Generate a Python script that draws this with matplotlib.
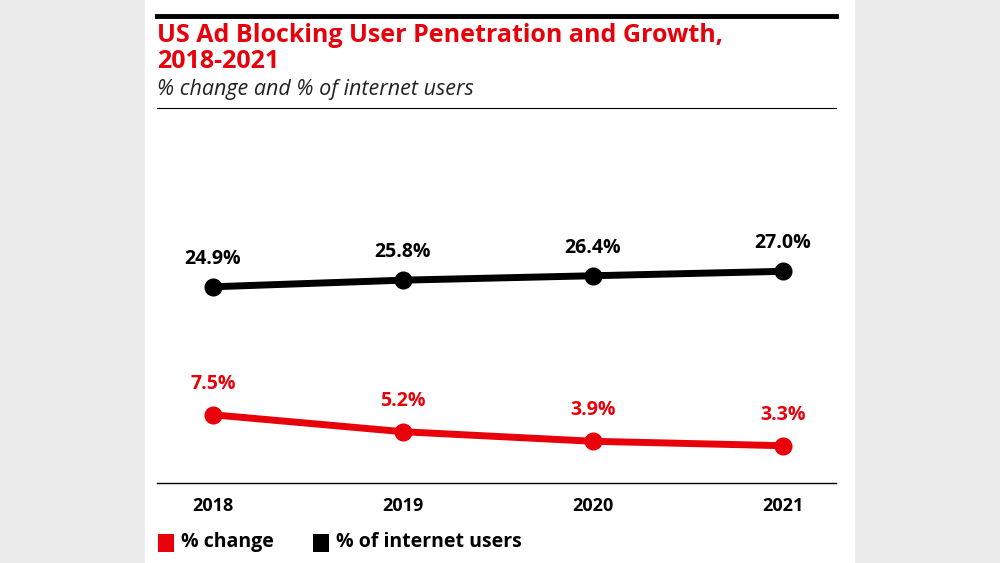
import matplotlib
matplotlib.use("Agg")
import matplotlib.pyplot as plt
from matplotlib.patches import Rectangle
from matplotlib.lines import Line2D

years = [2018, 2019, 2020, 2021]
pct_users = [24.9, 25.8, 26.4, 27.0]
pct_change = [7.5, 5.2, 3.9, 3.3]
RED = "#e8000b"

plt.rcParams["font.family"] = ["Open Sans", "DejaVu Sans"]
fig = plt.figure(figsize=(10, 5.63), dpi=100, facecolor="#ececec")
fig.patches.append(Rectangle((0.145, 0), 0.71, 1, transform=fig.transFigure,
                             facecolor="white", edgecolor="none", zorder=-5))

# header rules and text
fig.add_artist(Line2D([0.157, 0.836], [1 - 16 / 563] * 2, color="black", lw=3.5))
fig.add_artist(Line2D([0.157, 0.836], [1 - 108 / 563] * 2, color="black", lw=0.8))
fig.text(0.157, 1 - 36 / 563, "US Ad Blocking User Penetration and Growth,", color=RED,
         fontsize=18, fontweight="bold", va="center")
fig.text(0.157, 1 - 61 / 563, "2018-2021", color=RED, fontsize=18, fontweight="bold", va="center")
fig.text(0.157, 1 - 90 / 563, "% change and % of internet users", fontsize=15.5, style="italic",
         va="center", color="#222222")

ax = fig.add_axes([0.157, 1 - 483 / 563, 0.679, (483 - 108) / 563], zorder=3)
ax.set_facecolor("none")
ax.plot(years, pct_users, color="black", lw=5, marker="o", ms=12, solid_capstyle="round")
ax.plot(years, pct_change, color=RED, lw=5, marker="o", ms=12, solid_capstyle="round")
for x, v in zip(years, pct_users):
    ax.annotate(f"{v:.1f}%", (x, v), xytext=(0, 13), textcoords="offset points",
                ha="center", va="bottom", fontsize=14, fontweight="bold")
for x, v in zip(years, pct_change):
    ax.annotate(f"{v:.1f}%", (x, v), xytext=(0, 15), textcoords="offset points",
                ha="center", va="bottom", fontsize=14, fontweight="bold", color=RED)
ax.set_xlim(2017.705, 2021.279)
ax.set_ylim(-1.77, 49.2)
ax.set_xticks(years)
ax.set_xticklabels([str(y) for y in years], fontsize=13, fontweight="bold")
ax.set_yticks([])
for s in ["top", "right", "left"]:
    ax.spines[s].set_visible(False)
ax.spines["bottom"].set_linewidth(1)
ax.tick_params(axis="x", length=0, pad=10)

# legend
ly = 1 - 542 / 563
fig.patches.append(Rectangle((0.158, ly - 0.017), 0.016, 0.032, transform=fig.transFigure,
                             facecolor=RED, edgecolor="none"))
fig.text(0.181, ly, "% change", fontsize=14, fontweight="bold", va="center")
fig.patches.append(Rectangle((0.313, ly - 0.017), 0.016, 0.032, transform=fig.transFigure,
                             facecolor="black", edgecolor="none"))
fig.text(0.336, ly, "% of internet users", fontsize=14, fontweight="bold", va="center")

fig.savefig("out.png", dpi=100, facecolor=fig.get_facecolor())
